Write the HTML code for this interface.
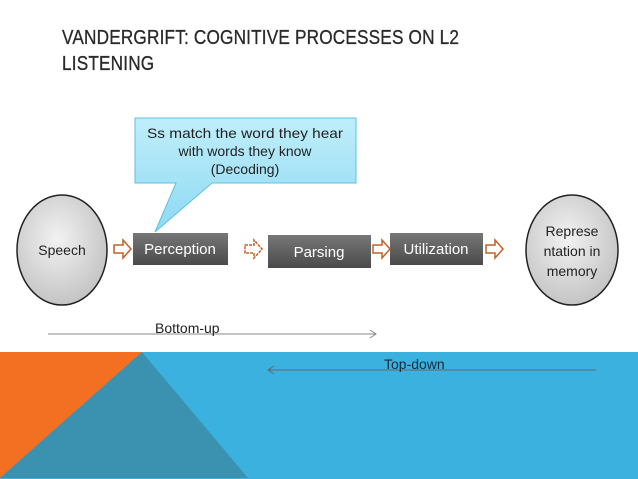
<!DOCTYPE html>
<html><head><style>
body{margin:0;width:638px;height:479px;overflow:hidden;background:#fff;position:relative;font-family:"Liberation Sans",sans-serif}
.t{position:absolute;left:62px;top:25px;font-size:20px;line-height:26px;color:#2a2a2a;letter-spacing:0.2px;transform:scaleX(0.86);transform-origin:left top;white-space:nowrap;-webkit-text-stroke:0.3px #2a2a2a}
</style></head><body>
<div class="t">VANDERGRIFT: COGNITIVE PROCESSES ON L2<br>LISTENING</div>
<svg width="638" height="479" style="position:absolute;left:0;top:0">
<defs>
<radialGradient id="g" cx="0.45" cy="0.4" r="0.7"><stop offset="0" stop-color="#f2f2f2"/><stop offset="1" stop-color="#bdbdbd"/></radialGradient>
<linearGradient id="b" x1="0" y1="0" x2="0" y2="1"><stop offset="0" stop-color="#777"/><stop offset="1" stop-color="#4a4a4a"/></linearGradient>
<linearGradient id="c" x1="0" y1="0" x2="0" y2="1"><stop offset="0" stop-color="#bfeefb"/><stop offset="1" stop-color="#8fd9f2"/></linearGradient>
</defs>
<rect x="0" y="352" width="638" height="127" fill="#3ab1de"/>
<polygon points="0,352 142,352 0,478" fill="#f36f21"/>
<polygon points="142,352 0,478 248,478" fill="#3a92b0"/>
<polygon points="135,118 356,118 356,183 212,183 155,232 176,183 135,183" fill="url(#c)" stroke="#5bc1e6" stroke-width="1"/>
<g font-size="14" fill="#222" text-anchor="middle">
<text x="245" y="138" textLength="196" lengthAdjust="spacingAndGlyphs">Ss match the word they hear</text>
<text x="245" y="156">with words they know</text>
<text x="245" y="174">(Decoding)</text>
<text x="62" y="255">Speech</text>
<text x="572" y="236">Represe</text>
<text x="572" y="256">ntation in</text>
<text x="572" y="276">memory</text>
</g>
<ellipse cx="62" cy="250" rx="45" ry="55" fill="url(#g)" stroke="#222" stroke-width="1.5"/>
<text x="62" y="255" font-size="14" text-anchor="middle" fill="#222">Speech</text>
<ellipse cx="572" cy="250" rx="46" ry="55" fill="url(#g)" stroke="#222" stroke-width="1.5"/>
<text x="572" y="236" font-size="14" text-anchor="middle" fill="#222">Represe</text>
<text x="572" y="256" font-size="14" text-anchor="middle" fill="#222">ntation in</text>
<text x="572" y="276" font-size="14" text-anchor="middle" fill="#222">memory</text>
<rect x="133" y="233" width="95" height="32" fill="url(#b)"/>
<text x="180" y="254" font-size="15" text-anchor="middle" fill="#fff">Perception</text>
<rect x="268" y="235" width="103" height="33" fill="url(#b)"/>
<text x="319" y="257" font-size="15" text-anchor="middle" fill="#fff">Parsing</text>
<rect x="390" y="233" width="93" height="32" fill="url(#b)"/>
<text x="436" y="254" font-size="15" text-anchor="middle" fill="#fff">Utilization</text>
<g fill="#fff" stroke="#c0622a" stroke-width="1.5">
<polygon points="114,245 123,245 123,240 131,249 123,258 123,253 114,253"/>
<polygon points="245,245 254,245 254,240 262,249 254,258 254,253 245,253" stroke-dasharray="3,1"/>
<polygon points="373,245 382,245 382,240 390,249 382,258 382,253 373,253"/>
<polygon points="486,245 495,245 495,240 503,249 495,258 495,253 486,253"/>
</g>
<line x1="48" y1="334" x2="376" y2="334" stroke="#888" stroke-width="1"/>
<polyline points="370,330 376,334 370,338" fill="none" stroke="#888"/>
<text x="155" y="333" font-size="14" fill="#222">Bottom-up</text>
<line x1="268" y1="370" x2="596" y2="370" stroke="#666" stroke-width="1"/>
<polyline points="274,366 268,370 274,374" fill="none" stroke="#666"/>
<text x="384" y="369" font-size="14" fill="#1a2a3a">Top-down</text>
</svg>
</body></html>
